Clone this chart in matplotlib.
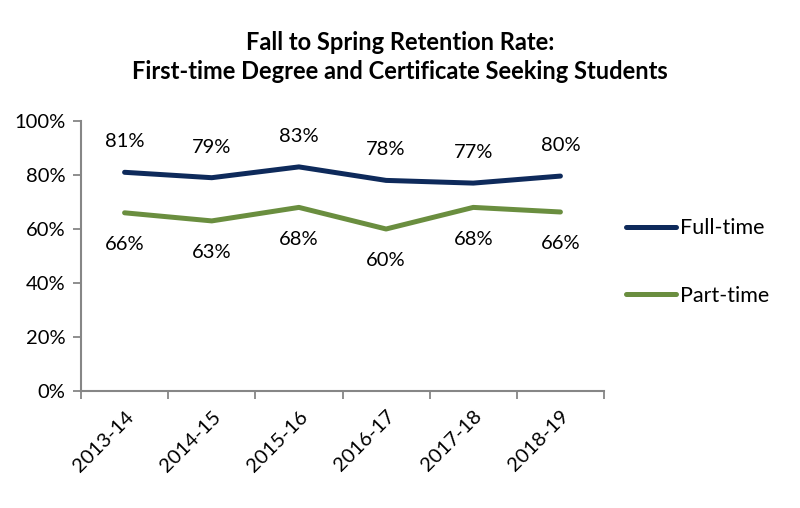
import matplotlib
matplotlib.use('Agg')
import matplotlib.pyplot as plt
import numpy as np

plt.rcParams['font.family'] = ['Lato', 'DejaVu Sans']

years = ['2013-14', '2014-15', '2015-16', '2016-17', '2017-18', '2018-19']
full_time = [81, 79, 83, 78, 77, 79.6]
part_time = [66, 63, 68, 60, 68, 66.3]

NAVY = '#0E2A5B'
GREEN = '#6A8E3F'
AXIS_GRAY = '#868686'
FS = 14.5

fig = plt.figure(figsize=(8, 5.08), dpi=100)
ax = fig.add_axes([81 / 800, 1 - 391 / 508, (604 - 81) / 800, (391 - 121) / 508])

x = np.arange(len(years))
ax.plot(x, full_time, color=NAVY, lw=3.6, solid_capstyle='round', label='Full-time')
ax.plot(x, part_time, color=GREEN, lw=3.6, solid_capstyle='round', label='Part-time')

# data labels: above for full-time, below for part-time
for xi, v in zip(x, full_time):
    ax.annotate(f'{round(v)}%', (xi, v), xytext=(0, 22), textcoords='offset points',
                ha='center', va='center', fontsize=FS, color='black')
for xi, v in zip(x, part_time):
    ax.annotate(f'{round(v)}%', (xi, v), xytext=(0, -23), textcoords='offset points',
                ha='center', va='center', fontsize=FS, color='black')

ax.set_xlim(-0.5, len(years) - 0.5)
ax.set_ylim(0, 100)
ax.set_yticks(np.arange(0, 101, 20))
ax.set_yticklabels([f'{t}%' for t in range(0, 101, 20)])

# category labels in the middle, ticks on the boundaries (Excel style)
ax.set_xticks(x)
ax.set_xticklabels(years, rotation=45, ha='right', rotation_mode='anchor')
ax.set_xticks(np.arange(-0.5, len(years)), minor=True)
ax.tick_params(axis='x', which='major', length=0, pad=12, labelsize=FS)
ax.tick_params(axis='x', which='minor', length=6, width=1.3, color=AXIS_GRAY)
ax.tick_params(axis='y', length=6, width=1.3, color=AXIS_GRAY, labelsize=FS, pad=5)

for side in ['top', 'right']:
    ax.spines[side].set_visible(False)
for side in ['left', 'bottom']:
    ax.spines[side].set_color(AXIS_GRAY)
    ax.spines[side].set_linewidth(1.5)

fig.legend(loc='center left', bbox_to_anchor=(626 / 800, 1 - 262 / 508), frameon=False,
           fontsize=15.5, handlelength=2.3, handletextpad=0.2, labelspacing=2.2,
           borderpad=0, borderaxespad=0)

fig.text(0.5, 1 - 57 / 508,
         'Fall to Spring Retention Rate:\nFirst-time Degree and Certificate Seeking Students',
         ha='center', va='center', fontsize=17, fontweight='bold', linespacing=1.3)

fig.savefig('out.png', dpi=100)
